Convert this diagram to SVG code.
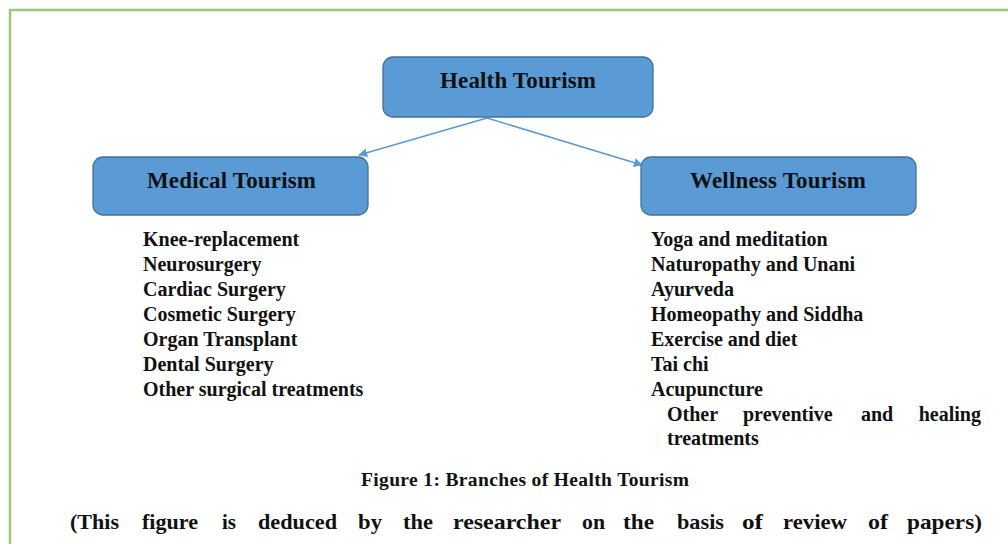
<svg xmlns="http://www.w3.org/2000/svg" width="1008" height="544" viewBox="0 0 1008 544">
<defs>
<style>
.box{fill:#5b9bd5;stroke:#41719c;stroke-width:1.3}
.h{font-family:"Liberation Serif","Times New Roman",serif;font-weight:bold;font-size:23px;fill:#111}
.li{font-family:"Liberation Serif","Times New Roman",serif;font-weight:bold;font-size:20px;fill:#111}
.cap{font-family:"Liberation Serif","Times New Roman",serif;font-weight:bold;font-size:19.5px;fill:#111}
.big{font-family:"Liberation Serif","Times New Roman",serif;font-weight:bold;font-size:22px;fill:#111}
.conn{stroke:#5b9bd5;stroke-width:1.5;fill:none}
</style>
<marker id="ah" viewBox="0 0 10 10" refX="9" refY="5" markerWidth="9" markerHeight="9" markerUnits="userSpaceOnUse" orient="auto">
<path d="M0,0 L10,5 L0,10 z" fill="#5b9bd5"/>
</marker>
</defs>
<rect x="0" y="0" width="1008" height="544" fill="#fff"/>
<rect x="10" y="10" width="1020" height="560" fill="none" stroke="#9bc67c" stroke-width="2.5"/>
<g id="connectors">
<line class="conn" x1="487" y1="118" x2="359" y2="155" marker-end="url(#ah)"/>
<line class="conn" x1="487" y1="118" x2="642" y2="165" marker-end="url(#ah)"/>
</g>
<g id="health-tourism">
<rect class="box" x="383" y="57" width="270" height="60" rx="10"/>
<text class="h" x="440" y="88" textLength="156">Health Tourism</text>
</g>
<g id="medical-tourism">
<rect class="box" x="93" y="157" width="275" height="58" rx="10"/>
<text class="h" x="147" y="188" textLength="169">Medical Tourism</text>
</g>
<g id="wellness-tourism">
<rect class="box" x="641" y="157" width="275" height="58" rx="10"/>
<text class="h" x="690" y="188" textLength="176">Wellness Tourism</text>
</g>
<g id="medical-list">
<text class="li" x="143" y="246">Knee-replacement</text>
<text class="li" x="143" y="271">Neurosurgery</text>
<text class="li" x="143" y="296">Cardiac Surgery</text>
<text class="li" x="143" y="321">Cosmetic Surgery</text>
<text class="li" x="143" y="346">Organ Transplant</text>
<text class="li" x="143" y="371">Dental Surgery</text>
<text class="li" x="143" y="396">Other surgical treatments</text>
</g>
<g id="wellness-list">
<text class="li" x="651" y="246">Yoga and meditation</text>
<text class="li" x="651" y="271">Naturopathy and Unani</text>
<text class="li" x="651" y="296">Ayurveda</text>
<text class="li" x="651" y="321">Homeopathy and Siddha</text>
<text class="li" x="651" y="346">Exercise and diet</text>
<text class="li" x="651" y="371">Tai chi</text>
<text class="li" x="651" y="396">Acupuncture</text>
<text class="li" y="421"><tspan x="667">Other</tspan><tspan x="743">preventive</tspan><tspan x="861">and</tspan><tspan x="981" text-anchor="end">healing</tspan></text>
<text class="li" x="667" y="445">treatments</text>
</g>
<text class="cap" x="361" y="486" textLength="328">Figure 1: Branches of Health Tourism</text>
<g id="note">
<text class="big" x="70" y="529" textLength="49" lengthAdjust="spacingAndGlyphs">(This</text>
<text class="big" x="142" y="529" textLength="56" lengthAdjust="spacingAndGlyphs">figure</text>
<text class="big" x="222" y="529" textLength="14" lengthAdjust="spacingAndGlyphs">is</text>
<text class="big" x="258" y="529" textLength="79" lengthAdjust="spacingAndGlyphs">deduced</text>
<text class="big" x="358" y="529" textLength="24" lengthAdjust="spacingAndGlyphs">by</text>
<text class="big" x="403" y="529" textLength="30" lengthAdjust="spacingAndGlyphs">the</text>
<text class="big" x="453" y="529" textLength="108" lengthAdjust="spacingAndGlyphs">researcher</text>
<text class="big" x="582" y="529" textLength="23" lengthAdjust="spacingAndGlyphs">on</text>
<text class="big" x="623" y="529" textLength="31" lengthAdjust="spacingAndGlyphs">the</text>
<text class="big" x="677" y="529" textLength="47" lengthAdjust="spacingAndGlyphs">basis</text>
<text class="big" x="742" y="529" textLength="21" lengthAdjust="spacingAndGlyphs">of</text>
<text class="big" x="783" y="529" textLength="64" lengthAdjust="spacingAndGlyphs">review</text>
<text class="big" x="868" y="529" textLength="20" lengthAdjust="spacingAndGlyphs">of</text>
<text class="big" x="907" y="529" textLength="75" lengthAdjust="spacingAndGlyphs">papers)</text>
</g>
</svg>
